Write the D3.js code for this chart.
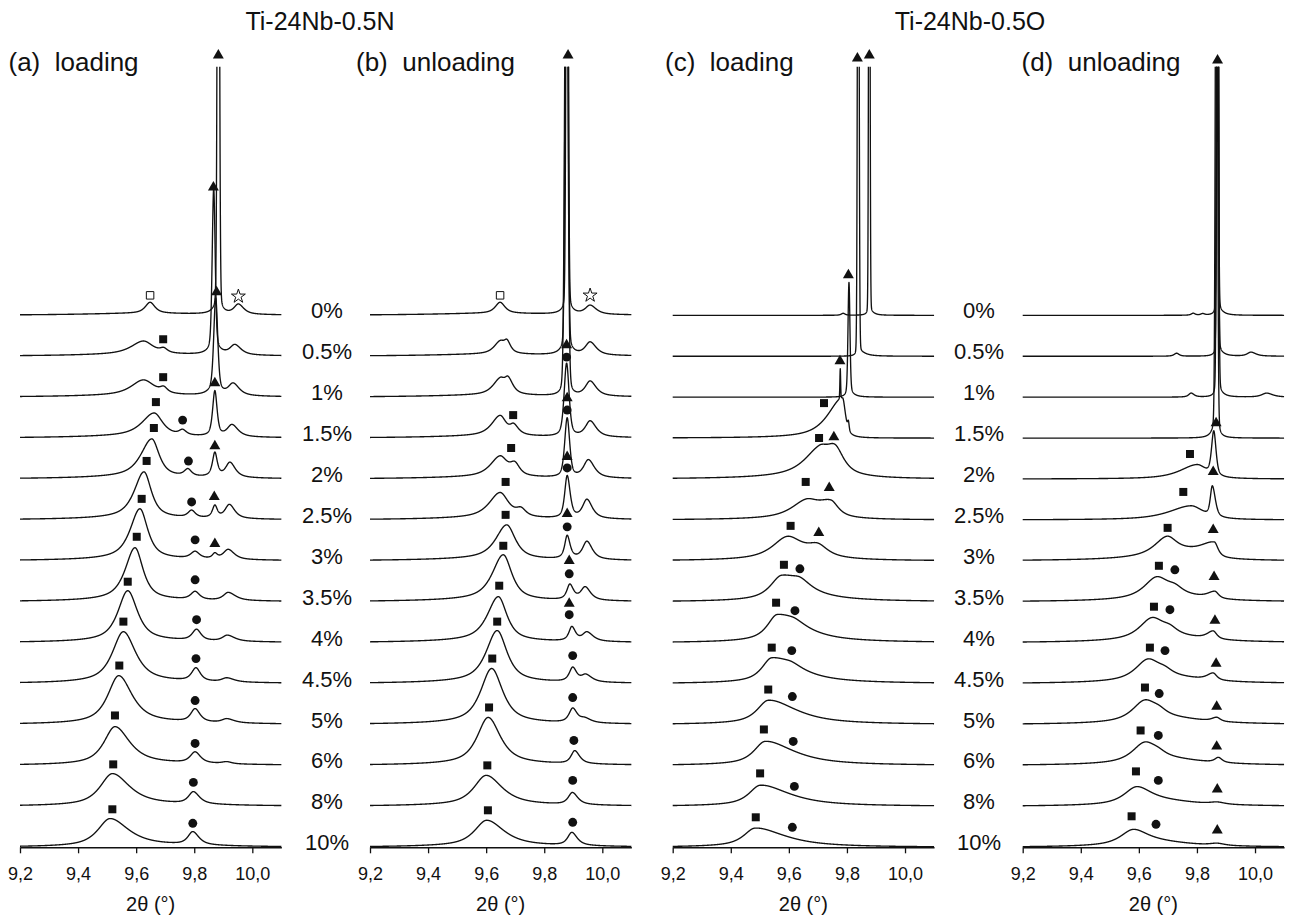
<!DOCTYPE html>
<html><head><meta charset="utf-8">
<script src="https://cdn.jsdelivr.net/npm/d3@7"></script>
<style>
body{margin:0;background:#fff}
svg text{font-family:"Liberation Sans",Arial,sans-serif;fill:#111}
</style></head><body>
<svg id="chart" width="1291" height="921"></svg>
<script>
// ---------- data ----------
const strainLabels = ["0%","0.5%","1%","1.5%","2%","2.5%","3%","3.5%","4%","4.5%","5%","6%","8%","10%"];
const xTicks = [9.2, 9.4, 9.6, 9.8, 10.0];
const alloyTitles = ["Ti-24Nb-0.5N", "Ti-24Nb-0.5O"];
const panelTitles = ["(a)  loading", "(b)  unloading", "(c)  loading", "(d)  unloading"];
const xLabel = "2θ (°)";

// peaks per strain row: [2θ centre, height, hwhm left, hwhm right, lorentz fraction]
const peaksA = [
  [[9.62,2,0.25,0.25,1],[9.648,11,0.02,0.02],[9.883,700,0.004,0.004,0.1],[9.88,6,0.02,0.02,1],[9.952,10,0.018,0.022]],
  [[9.62,2,0.25,0.25,1],[9.625,13,0.05,0.04],[9.695,4,0.015,0.015],[9.867,160,0.006,0.006,0.3],[9.87,6,0.025,0.025,1],[9.940,10,0.02,0.025]],
  [[9.62,2,0.25,0.25,1],[9.625,15,0.05,0.045],[9.695,5,0.015,0.015],[9.874,92,0.008,0.008,0.4],[9.87,5,0.025,0.025,1],[9.934,12,0.02,0.025]],
  [[9.62,2,0.25,0.25,1],[9.662,23,0.05,0.035],[9.76,5,0.015,0.015],[9.871,45,0.009,0.009,0.6],[9.930,12,0.02,0.025]],
  [[9.62,2,0.25,0.25,1],[9.654,38,0.045,0.03],[9.778,7,0.015,0.015],[9.871,24,0.01,0.01],[9.923,15,0.018,0.022]],
  [[9.62,2,0.25,0.25,1],[9.627,46,0.04,0.03],[9.791,7,0.015,0.015],[9.871,12,0.01,0.01],[9.921,14,0.018,0.022]],
  [[9.62,2,0.25,0.25,1],[9.613,50,0.04,0.032],[9.803,7,0.018,0.018],[9.871,5,0.01,0.01],[9.917,10,0.02,0.025]],
  [[9.62,2,0.25,0.25,1],[9.596,52,0.04,0.033],[9.803,8,0.018,0.018],[9.917,8,0.02,0.03]],
  [[9.62,2,0.25,0.25,1],[9.571,50,0.04,0.04],[9.808,11,0.018,0.018],[9.914,6,0.02,0.03]],
  [[9.62,2,0.25,0.25,1],[9.556,50,0.045,0.05],[9.806,13,0.018,0.018],[9.912,4,0.02,0.03]],
  [[9.62,2,0.25,0.25,1],[9.540,47,0.045,0.055],[9.803,13,0.018,0.02],[9.912,4,0.02,0.03]],
  [[9.62,2,0.25,0.25,1],[9.527,37,0.045,0.06],[9.803,11,0.02,0.022],[9.912,2,0.02,0.02]],
  [[9.62,2,0.25,0.25,1],[9.518,31,0.05,0.07],[9.797,12,0.02,0.025]],
  [[9.62,2,0.25,0.25,1],[9.510,27,0.05,0.075],[9.795,13,0.02,0.025]]
];
const peaksB = [
  [[9.62,2,0.25,0.25,1],[9.648,11,0.02,0.02],[9.879,700,0.004,0.004,0.1],[9.88,6,0.02,0.02,1],[9.958,9,0.02,0.025]],
  [[9.62,2,0.25,0.25,1],[9.648,12,0.025,0.02],[9.672,10,0.012,0.015],[9.877,700,0.005,0.005,0.1],[9.877,8,0.02,0.02,1],[9.958,13,0.02,0.025]],
  [[9.62,2,0.25,0.25,1],[9.648,15,0.03,0.02],[9.676,14,0.015,0.02],[9.876,600,0.006,0.006,0.15],[9.958,15,0.02,0.025]],
  [[9.62,2,0.25,0.25,1],[9.648,20,0.035,0.025],[9.695,9,0.015,0.02],[9.877,73,0.01,0.01,0.5],[9.958,16,0.02,0.025]],
  [[9.62,2,0.25,0.25,1],[9.648,20,0.04,0.03],[9.699,11,0.02,0.02],[9.879,59,0.01,0.01,0.5],[9.952,18,0.02,0.025]],
  [[9.62,2,0.25,0.25,1],[9.648,25,0.045,0.035],[9.72,7,0.02,0.02],[9.879,42,0.01,0.012,0.6],[9.947,19,0.018,0.022]],
  [[9.62,2,0.25,0.25,1],[9.671,34,0.045,0.035],[9.879,23,0.01,0.012],[9.947,18,0.018,0.022]],
  [[9.62,2,0.25,0.25,1],[9.659,45,0.045,0.035],[9.888,15,0.012,0.015],[9.941,13,0.018,0.022]],
  [[9.62,2,0.25,0.25,1],[9.642,44,0.045,0.035],[9.895,14,0.012,0.015],[9.947,9,0.018,0.025]],
  [[9.62,2,0.25,0.25,1],[9.638,51,0.045,0.04],[9.898,14,0.014,0.016],[9.943,7,0.018,0.025]],
  [[9.62,2,0.25,0.25,1],[9.619,54,0.045,0.045],[9.898,14,0.015,0.018],[9.94,4,0.02,0.025]],
  [[9.62,2,0.25,0.25,1],[9.607,46,0.045,0.05],[9.905,13,0.015,0.02]],
  [[9.62,2,0.25,0.25,1],[9.600,29,0.05,0.065],[9.897,12,0.017,0.022]],
  [[9.62,2,0.25,0.25,1],[9.602,25,0.05,0.07],[9.895,13,0.017,0.022]]
];
const peaksC = [
  [[9.787,2,0.008,0.008],[9.877,700,0.0025,0.0025,0.05],[9.882,3,0.01,0.015,1]],
  [[9.839,700,0.003,0.003,0.05],[9.845,4,0.008,0.025,1]],
  [[9.807,112,0.004,0.004,0.3],[9.81,3,0.01,0.02,1]],
  [[9.785,40,0.06,0.012],[9.777,30,0.0015,0.0015,0.2],[9.805,8,0.003,0.003,0.3]],
  [[9.705,22,0.06,0.04],[9.76,22,0.035,0.035],[9.72,6,0.15,0.1,1]],
  [[9.66,15,0.06,0.05],[9.745,14,0.05,0.03],[9.7,3,0.15,0.1,1]],
  [[9.595,20,0.06,0.06],[9.70,10,0.04,0.04],[9.65,4,0.15,0.12,1]],
  [[9.575,22,0.045,0.09],[9.64,6,0.03,0.04],[9.62,4,0.15,0.15,1]],
  [[9.560,24,0.04,0.1],[9.621,3,0.03,0.04],[9.6,4,0.15,0.15,1]],
  [[9.541,22,0.04,0.1],[9.61,3,0.03,0.04],[9.6,4,0.15,0.15,1]],
  [[9.529,21,0.045,0.1],[9.6,4,0.15,0.15,1]],
  [[9.518,21,0.045,0.1],[9.6,4,0.15,0.15,1]],
  [[9.501,18,0.045,0.1],[9.58,4,0.15,0.15,1]],
  [[9.483,16,0.045,0.1],[9.56,4,0.15,0.15,1]]
];
const peaksD = [
  [[9.787,2,0.008,0.008],[9.82,1.5,0.008,0.008],[9.871,700,0.003,0.003,0.1],[9.88,3,0.01,0.02,1]],
  [[9.73,3,0.01,0.01],[9.871,700,0.003,0.003,0.1],[9.88,3,0.01,0.02,1],[9.986,4,0.015,0.02]],
  [[9.78,4,0.01,0.012],[9.871,700,0.0035,0.0035,0.1],[9.88,3,0.01,0.02,1],[10.04,4,0.02,0.025]],
  [[9.867,700,0.004,0.004,0.1],[9.86,6,0.015,0.015,1]],
  [[9.858,44,0.009,0.009,0.5],[9.80,14,0.07,0.04]],
  [[9.853,30,0.008,0.012,0.5],[9.78,14,0.09,0.05]],
  [[9.697,17,0.05,0.04],[9.86,15,0.06,0.015],[9.75,7,0.15,0.1,1]],
  [[9.661,19,0.05,0.05],[9.725,5,0.03,0.03],[9.862,7,0.03,0.015],[9.72,6,0.15,0.12,1]],
  [[9.645,19,0.05,0.05],[9.707,5,0.03,0.03],[9.856,8,0.025,0.015],[9.7,6,0.15,0.15,1]],
  [[9.631,19,0.05,0.05],[9.69,4,0.03,0.03],[9.856,7,0.025,0.015],[9.7,6,0.15,0.15,1]],
  [[9.620,19,0.05,0.05],[9.67,4,0.03,0.03],[9.868,4,0.02,0.015],[9.7,6,0.15,0.15,1]],
  [[9.62,18,0.05,0.05],[9.667,3,0.03,0.03],[9.874,5,0.015,0.015],[9.7,6,0.15,0.15,1]],
  [[9.592,16,0.05,0.06],[9.87,2,0.03,0.03],[9.68,5,0.15,0.15,1]],
  [[9.58,14,0.05,0.06],[9.87,2,0.03,0.03],[9.66,5,0.15,0.15,1]]
];

// phase markers: [row, symbol, 2θ, level above row baseline]
const markersA = [
  [0,"tr",9.883,260],[0,"osq",9.648,20],[0,"star",9.952,19],
  [1,"tr",9.866,169],[1,"sq",9.693,17],
  [2,"tr",9.877,105],[2,"sq",9.693,20],
  [3,"tr",9.871,55],[3,"sq",9.668,36],[3,"ci",9.760,18],
  [4,"sq",9.661,51],[4,"ci",9.780,18],[4,"tr",9.871,33],
  [5,"sq",9.636,59],[5,"ci",9.791,18],[5,"tr",9.869,23],
  [6,"sq",9.619,62],[6,"ci",9.803,21],[6,"tr",9.871,17],
  [7,"sq",9.602,65],[7,"ci",9.803,22],
  [8,"sq",9.571,61],[8,"ci",9.808,23],
  [9,"sq",9.556,62],[9,"ci",9.806,25],
  [10,"sq",9.542,59],[10,"ci",9.803,24],
  [11,"sq",9.527,50],[11,"ci",9.803,22],
  [12,"sq",9.521,42],[12,"ci",9.797,24],
  [13,"sq",9.518,38],[13,"ci",9.795,24]
];
const markersB = [
  [0,"tr",9.882,260],[0,"osq",9.648,20],[0,"star",9.958,20],
  [3,"tr",9.877,93],[3,"ci",9.877,81],[3,"sq",9.693,23],
  [4,"tr",9.879,81],[4,"ci",9.879,69],[4,"sq",9.686,31],
  [5,"tr",9.879,63],[5,"ci",9.879,52],[5,"sq",9.667,38],
  [6,"tr",9.879,47],[6,"ci",9.879,34],[6,"sq",9.667,46],
  [7,"tr",9.886,41],[7,"ci",9.886,28],[7,"sq",9.659,56],
  [8,"tr",9.886,39],[8,"ci",9.886,28],[8,"sq",9.645,57],
  [9,"ci",9.898,28],[9,"sq",9.638,62],
  [10,"ci",9.898,27],[10,"sq",9.621,66],
  [11,"ci",9.902,25],[11,"sq",9.610,58],
  [12,"ci",9.898,26],[12,"sq",9.604,41],
  [13,"ci",9.898,25],[13,"sq",9.606,37]
];
const markersC = [
  [0,"tr",9.877,260],[1,"tr",9.836,298],[2,"tr",9.805,122],
  [3,"sq",9.721,35],[3,"tr",9.776,77],
  [4,"sq",9.704,41],[4,"tr",9.755,42],
  [5,"sq",9.658,38],[5,"tr",9.739,32],
  [6,"sq",9.606,35],[6,"tr",9.703,28],
  [7,"sq",9.583,37],[7,"ci",9.638,33],
  [8,"sq",9.556,40],[8,"ci",9.621,32],
  [9,"sq",9.541,36],[9,"ci",9.610,33],
  [10,"sq",9.529,35],[10,"ci",9.612,28],
  [11,"sq",9.514,36],[11,"ci",9.615,24],
  [12,"sq",9.501,33],[12,"ci",9.619,20],
  [13,"sq",9.486,30],[13,"ci",9.612,20]
];
const markersD = [
  [0,"tr",9.871,255],
  [4,"tr",9.866,56],[4,"sq",9.776,25],
  [5,"tr",9.856,48],[5,"sq",9.753,28],
  [6,"sq",9.699,33],[6,"tr",9.856,31],
  [7,"sq",9.669,36],[7,"ci",9.724,32],[7,"tr",9.859,25],
  [8,"sq",9.652,36],[8,"ci",9.707,33],[8,"tr",9.862,22],
  [9,"sq",9.638,36],[9,"ci",9.690,33],[9,"tr",9.866,20],
  [10,"sq",9.621,37],[10,"ci",9.670,31],[10,"tr",9.868,18],
  [11,"sq",9.606,35],[11,"ci",9.667,30],[11,"tr",9.868,19],
  [12,"sq",9.590,35],[12,"ci",9.667,26],[12,"tr",9.870,17],
  [13,"sq",9.575,31],[13,"ci",9.659,23],[13,"tr",9.870,17]
];

// ---------- layout ----------
const svg = d3.select("#chart");
const panels = [
  {x0:20,    peaks:peaksA, markers:markersA, title:panelTitles[0], tx:8.5},
  {x0:370,   peaks:peaksB, markers:markersB, title:panelTitles[1], tx:356},
  {x0:672.7, peaks:peaksC, markers:markersC, title:panelTitles[2], tx:665},
  {x0:1022.7,peaks:peaksD, markers:markersD, title:panelTitles[3], tx:1021.5}
];
const axisY = 847.3, topY = 66.7, rowGap = 40.92, nRows = strainLabels.length;
const y = d3.scaleLinear().domain([0, axisY - topY]).range([axisY, topY]);
const grid = d3.range(0, 1801).map(i => 9.2 + i * 0.0005);

function profile(t, p) {
  const c = p[0], h = p[1], w = t < c ? p[2] : p[3], eta = p.length > 4 ? p[4] : 0.8;
  const u = (t - c) / w;
  return h * (eta / (1 + u * u) + (1 - eta) * Math.exp(-Math.LN2 * u * u));
}

const symbolTypes = {sq:d3.symbolSquare, ci:d3.symbolCircle, tr:d3.symbolTriangle, osq:d3.symbolSquare, star:d3.symbolStar};
const symbolSizes = {sq:64, ci:62, tr:52, osq:56, star:60};

panels.forEach((P, pi) => {
  const x = d3.scaleLinear().domain([9.2, 10.1]).range([P.x0, P.x0 + 261.36]);
  const g = svg.append("g");
  const cid = "clip" + pi;
  svg.append("clipPath").attr("id", cid).append("rect")
    .attr("x", P.x0 - 2).attr("y", topY).attr("width", 266).attr("height", axisY - topY + 10);
  const curves = g.append("g").attr("clip-path", `url(#${cid})`);
  const line = d3.line().x(d => x(d[0])).y(d => y(d[1]));
  P.peaks.forEach((row, i) => {
    const off = (nRows - 1 - i) * rowGap;
    const pts = grid.map(t => [t, off + d3.sum(row, p => profile(t, p))]);
    curves.append("path").attr("d", line(pts))
      .attr("fill", "none").attr("stroke", "#111").attr("stroke-width", 1.35)
      .attr("stroke-linejoin", "round");
  });
  // axis
  const ax = d3.axisBottom(x).tickValues(xTicks)
    .tickFormat(d => d3.format(".1f")(d).replace(".", ","))
    .tickSize(6).tickSizeOuter(0).tickPadding(14);
  const ag = g.append("g").attr("transform", `translate(0,${axisY})`).call(ax);
  ag.select(".domain").attr("stroke", "#111").attr("stroke-width", 1.5);
  ag.selectAll(".tick line").attr("stroke", "#111").attr("stroke-width", 1.3);
  ag.selectAll(".tick text").attr("font-size", 18).attr("fill", "#111")
    .style("font-family", '"Liberation Sans", Arial, sans-serif');
  g.append("text").attr("x", x(9.65)).attr("y", 911).attr("text-anchor", "middle")
    .attr("font-size", 20).text(xLabel);
  // markers
  P.markers.forEach(m => {
    const [row, s, t, lev] = m;
    const off = (nRows - 1 - row) * rowGap;
    const open = (s === "osq" || s === "star");
    g.append("path")
      .attr("d", d3.symbol().type(symbolTypes[s]).size(symbolSizes[s])())
      .attr("transform", `translate(${x(t)},${y(off + lev)})`)
      .attr("fill", open ? "#fff" : "#111")
      .attr("stroke", "#111").attr("stroke-width", open ? 1 : 0);
  });
  // panel title
  g.append("text").attr("x", P.tx).attr("y", 71).attr("font-size", 26)
    .style("white-space", "pre").text(P.title);
});

// strain labels
[327, 979].forEach(cx => {
  strainLabels.forEach((s, i) => {
    svg.append("text").attr("x", cx).attr("y", axisY - (nRows - 1 - i) * rowGap + 3)
      .attr("text-anchor", "middle").attr("font-size", 22).text(s);
  });
});
// alloy titles
[[320, alloyTitles[0]], [970, alloyTitles[1]]].forEach(([cx, t]) => {
  svg.append("text").attr("x", cx).attr("y", 30).attr("text-anchor", "middle")
    .attr("font-size", 25).text(t);
});
</script>
</body></html>
